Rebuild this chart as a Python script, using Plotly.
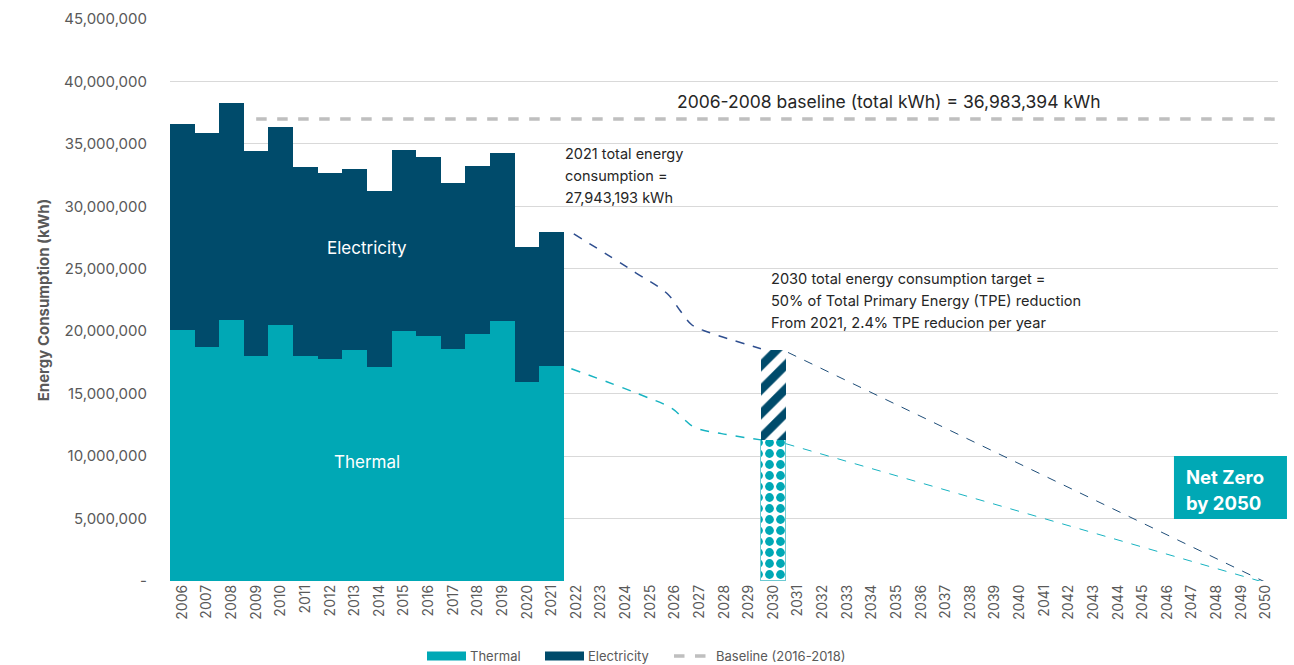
import plotly.graph_objects as go

years_hist = list(range(2006, 2022))
thermal = [20.06, 18.73, 20.86, 18.04, 20.46, 18.04, 17.77, 18.47, 17.13, 20.01, 19.64, 18.57, 19.74, 20.81, 15.91, 17.24]
electricity = [16.57, 17.11, 17.38, 16.41, 15.86, 15.13, 14.92, 14.54, 14.12, 14.50, 14.33, 13.32, 13.49, 13.48, 10.87, 10.70]
thermal_m = [v * 1e6 for v in thermal]
electricity_m = [v * 1e6 for v in electricity]

target_year = [2030]
target_thermal = [11.27e6]
target_electricity = [7.20e6]

baseline_x = [2009, 2050.5]
baseline_y = [36983394, 36983394]

# trajectories
elec_path_x = [2021.9, 2024.4, 2025.7, 2026.2, 2026.7, 2027.4, 2029.5]
elec_path_y = [27.8e6, 24.7e6, 23.0e6, 21.7e6, 20.5e6, 19.9e6, 18.6e6]
elec_tail_x = [2030.6, 2050.1]
elec_tail_y = [18.3e6, -0.2e6]
th_path_x = [2021.8, 2024.5, 2025.9, 2026.35, 2026.8, 2027.9, 2029.5]
th_path_y = [17.0e6, 15.0e6, 13.8e6, 13.0e6, 12.3e6, 11.8e6, 11.3e6]
th_tail_x = [2030.5, 2050.1]
th_tail_y = [11.0e6, -0.2e6]

x_ticks = list(range(2006, 2051))
y_tickvals = [0, 5e6, 10e6, 15e6, 20e6, 25e6, 30e6, 35e6, 40e6, 45e6]
y_ticktext = ["-", "5,000,000", "10,000,000", "15,000,000", "20,000,000", "25,000,000",
              "30,000,000", "35,000,000", "40,000,000", "45,000,000"]

TEAL = "#00A8B5"
DARK = "#004B6B"
GRAY = "#595959"
TXT = "#262626"
FONT = "Inter"

fig = go.Figure()
fig.add_trace(go.Bar(x=years_hist, y=thermal_m, width=1, marker=dict(color=TEAL, line=dict(width=0)), name="Thermal"))
fig.add_trace(go.Bar(x=years_hist, y=electricity_m, width=1, marker=dict(color=DARK, line=dict(width=0)), name="Electricity"))
fig.add_trace(go.Bar(x=target_year, y=target_thermal, width=1,
                     marker=dict(color="white", line=dict(width=1, color="#6CCAD2"),
                                 pattern=dict(shape=".", fgcolor=TEAL, bgcolor="white", size=11, solidity=0.5,
                                              fgopacity=1))))
fig.add_trace(go.Bar(x=target_year, y=target_electricity, width=1,
                     marker=dict(color="white", line=dict(width=0),
                                 pattern=dict(shape="/", fgcolor=DARK, bgcolor="white", size=17, solidity=0.5,
                                              fgopacity=1))))

fig.add_trace(go.Scatter(x=baseline_x, y=baseline_y, mode="lines", line=dict(color="#BFBFBF", width=3.5, dash="dash")))
fig.add_trace(go.Scatter(x=elec_path_x, y=elec_path_y, mode="lines", line=dict(color="#2E4E8F", width=1.5, dash="dash", shape="spline")))
fig.add_trace(go.Scatter(x=elec_tail_x, y=elec_tail_y, mode="lines", line=dict(color="#1F4E79", width=1, dash="dash")))
fig.add_trace(go.Scatter(x=th_path_x, y=th_path_y, mode="lines", line=dict(color="#17B3C1", width=1.5, dash="dash", shape="spline")))
fig.add_trace(go.Scatter(x=th_tail_x, y=th_tail_y, mode="lines", line=dict(color="#17B3C1", width=1, dash="dash")))

ann = []
ann.append(dict(x=2013.5, y=26.66e6, text="Electricity", showarrow=False, font=dict(color="white", size=17, family=FONT)))
ann.append(dict(x=2013.5, y=9.53e6, text="Thermal", showarrow=False, font=dict(color="white", size=17, family=FONT)))
ann.append(dict(x=0.6485, xref="paper", xanchor="center", y=38.43e6, yanchor="middle",
                text="2006-2008 baseline (total kWh) = 36,983,394 kWh", showarrow=False,
                font=dict(color=TXT, size=17.5, family=FONT)))
for i, t in enumerate(["2021 total energy", "consumption =", "27,943,193 kWh"]):
    ann.append(dict(x=2021.48, y=(34.19 - 1.735 * i) * 1e6, text=t, showarrow=False, xanchor="left", yanchor="middle",
                    font=dict(color=TXT, size=14.5, family=FONT)))
for i, t in enumerate(["2030 total energy consumption target =", "50% of Total Primary Energy (TPE) reduction",
                       "From 2021, 2.4% TPE reducion per year"]):
    ann.append(dict(x=2029.83, y=(24.18 - 1.775 * i) * 1e6, text=t, showarrow=False, xanchor="left", yanchor="middle",
                    font=dict(color=TXT, size=14.6, family=FONT)))

PW, PH = 1108, 562
for t, py in [("<b>Net Zero</b>", 477), ("<b>by 2050</b>", 503)]:
    ann.append(dict(x=0.915, xref="paper", y=(581 - py) / PH, yref="paper", text=t, showarrow=False,
                    xanchor="left", yanchor="middle", font=dict(color="white", size=18.5, family=FONT)))

shapes = [dict(type="rect", xref="paper", yref="paper", x0=0.9061, x1=1.0081, y0=(581 - 519) / PH, y1=(581 - 456) / PH,
               fillcolor=TEAL, line=dict(width=0), layer="above")]

# custom legend (drawn in paper coordinates)
leg = [("Thermal", "rect", TEAL, 427, 466), ("Electricity", "rect", DARK, 545, 584),
       ("Baseline (2016-2018)", "line", "#BFBFBF", 674, 712)]
ly = (581 - 656) / PH
for name, kind, col, x0, x1 in leg:
    px0 = (x0 - 170) / PW
    px1 = (x1 - 170) / PW
    if kind == "rect":
        shapes.append(dict(type="rect", xref="paper", yref="paper", x0=px0, x1=px1, y0=ly - 4.5 / PH, y1=ly + 4.5 / PH,
                           fillcolor=col, line=dict(width=0)))
    else:
        shapes.append(dict(type="line", xref="paper", yref="paper", x0=px0, x1=px1, y0=ly, y1=ly,
                           line=dict(color=col, width=3.5, dash="dash")))
    ann.append(dict(x=px1 + 0.002, xref="paper", y=ly, yref="paper", text=name, showarrow=False, xanchor="left",
                    yanchor="middle", font=dict(color=GRAY, size=13, family=FONT)))

fig.update_layout(
    width=1294, height=665,
    margin=dict(l=170, r=16, t=19, b=84, autoexpand=False),
    barmode="stack", bargap=0,
    plot_bgcolor="white", paper_bgcolor="white",
    showlegend=False,
    annotations=ann, shapes=shapes,
    font=dict(family=FONT, color=GRAY),
)
fig.update_xaxes(range=[2005.5, 2050.5], tickvals=x_ticks, ticktext=[str(v) for v in x_ticks], tickangle=-90,
                 showgrid=False, zeroline=False, showline=False, ticks="", automargin=False,
                 tickfont=dict(size=14, color=GRAY, family=FONT))
fig.update_yaxes(range=[0, 45e6], tickvals=y_tickvals, ticktext=y_ticktext, showgrid=True, gridcolor="#D9D9D9",
                 gridwidth=1, zeroline=False, showline=False, ticks="", ticklabelstandoff=22, automargin=False,
                 tickfont=dict(size=15, color=GRAY, family=FONT),
                 title=dict(text="<b>Energy Consumption (kWh)</b>", font=dict(size=15, color=GRAY, family=FONT), standoff=10))

fig.write_html("out.html")
